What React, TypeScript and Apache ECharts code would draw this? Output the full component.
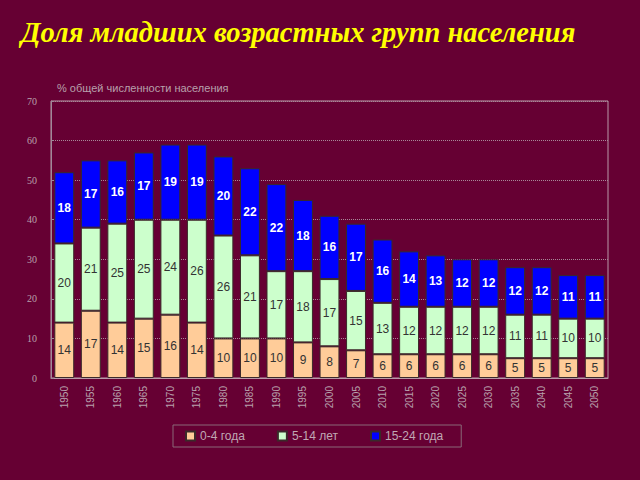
import React, { useEffect, useRef } from "react";
import * as echarts from "echarts";

const years = ["1950","1955","1960","1965","1970","1975","1980","1985","1990","1995","2000","2005","2010","2015","2020","2025","2030","2035","2040","2045","2050"];
const age0to4 = [14,17,14,15,16,14,10,10,10,9,8,7,6,6,6,6,6,5,5,5,5];
const age5to14 = [20,21,25,25,24,26,26,21,17,18,17,15,13,12,12,12,12,11,11,10,10];
const age15to24 = [18,17,16,17,19,19,20,22,22,18,16,17,16,14,13,12,12,12,12,11,11];
const seriesNames = ["0-4 года", "5-14 лет", "15-24 года"];
const yTitle = "% общей численности населения";
const mainTitle = "Доля младших возрастных групп населения";

export default function App() {
  const ref = useRef<HTMLDivElement>(null);
  useEffect(() => {
    document.body.style.margin = "0";
    const chart = echarts.init(ref.current!, null, { renderer: "svg" });
    const labelBase = { show: true, position: "inside", fontFamily: "Liberation Sans, Arial", fontSize: 12 };
    const mk = (name: string, data: number[], color: string, labelColor: string, bold: boolean) => ({
      name,
      type: "bar",
      stack: "total",
      data,
      barCategoryGap: "25%",
      itemStyle: { color, borderColor: "#3a2a2a", borderWidth: 1 },
      label: { ...labelBase, color: labelColor, fontWeight: bold ? "bold" : "normal" },
    });
    chart.setOption({
      animation: false,
      backgroundColor: "#660033",
      title: {
        text: mainTitle,
        left: 16,
        top: 13,
        textStyle: {
          color: "#ffff00",
          fontFamily: "Liberation Serif, Times New Roman, serif",
          fontStyle: "italic",
          fontWeight: "bold",
          fontSize: 28.5,
        },
      },
      grid: {
        left: 51,
        right: 32,
        top: 101,
        bottom: 102,
        show: true,
        borderColor: "#b898a8",
        borderWidth: 1,
        backgroundColor: "transparent",
      },
      legend: {
        bottom: 33,
        left: 173,
        itemWidth: 9,
        itemHeight: 9,
        itemGap: 32,
        borderColor: "#8a6878",
        borderWidth: 1,
        padding: [5, 18, 5, 12],
        textStyle: { color: "#c0a8b4", fontSize: 12, fontFamily: "Liberation Sans, Arial" },
        data: seriesNames.map((n) => ({ name: n, icon: "rect" })),
      },
      xAxis: {
        type: "category",
        data: years,
        axisLine: { lineStyle: { color: "#b898a8" } },
        axisTick: { show: false },
        axisLabel: { rotate: 90, color: "#b8a0ac", fontSize: 10, fontFamily: "Liberation Sans, Arial", margin: 8 },
      },
      yAxis: {
        type: "value",
        min: 0,
        max: 70,
        interval: 10,
        name: yTitle,
        nameLocation: "end",
        nameGap: 8,
        nameTextStyle: { color: "#b8a0ac", fontSize: 11, align: "left", padding: [0, 0, 0, 6], fontFamily: "Liberation Sans, Arial" },
        axisLine: { show: true, lineStyle: { color: "#a08898" } },
        axisTick: { show: true, inside: true, length: 3, lineStyle: { color: "#a08898" } },
        axisLabel: { color: "#b8a0ac", fontSize: 10, fontFamily: "Liberation Serif, serif", margin: 14 },
        splitLine: { show: true, lineStyle: { type: "dotted", color: "#a88898" } },
      },
      series: [
        mk(seriesNames[0], age0to4, "#ffcc99", "#333333", false),
        mk(seriesNames[1], age5to14, "#ccffcc", "#333333", false),
        mk(seriesNames[2], age15to24, "#0000ff", "#ffffff", true),
      ],
    });
    return () => chart.dispose();
  }, []);
  return <div ref={ref} style={{ position: "fixed", left: 0, top: 0, width: 640, height: 480 }} />;
}
